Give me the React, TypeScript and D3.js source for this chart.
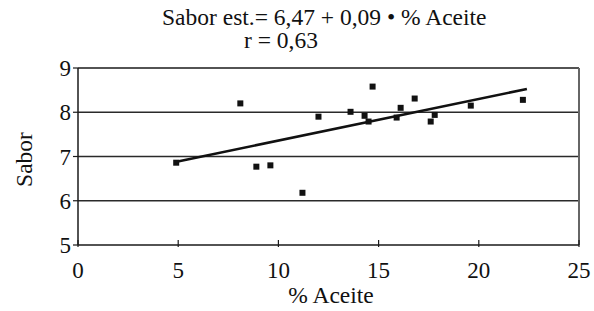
import React from 'react';
import * as d3 from 'd3';

// % Aceite vs Sabor
const aceite = [4.9, 8.1, 8.9, 9.6, 11.2, 12.0, 13.6, 14.3, 14.5, 14.7, 15.9, 16.1, 16.8, 17.6, 17.8, 19.6, 22.2];
const sabor = [6.86, 8.2, 6.77, 6.8, 6.18, 7.9, 8.01, 7.92, 7.79, 8.58, 7.88, 8.1, 8.31, 7.79, 7.94, 8.15, 8.28];

// trend line as drawn
const intercept = 6.42;
const slope = 0.094;
const lineFrom = 4.92;
const lineTo = 22.4;

const xTicks = [0, 5, 10, 15, 20, 25];
const yTicks = [5, 6, 7, 8, 9];

const titleLine1 = 'Sabor est.= 6,47 + 0,09 • % Aceite';
const titleLine2 = 'r = 0,63';

const W = 594;
const H = 311;
const margin = { top: 68, right: 15, bottom: 66, left: 78 };
const FONT = 'Liberation Serif, Times New Roman, serif';

export default function App() {
  const innerW = W - margin.left - margin.right;
  const innerH = H - margin.top - margin.bottom;

  const x = d3.scaleLinear().domain([0, 25]).range([0, innerW]);
  const y = d3.scaleLinear().domain([5, 9]).range([innerH, 0]);

  const pts = aceite.map((a, i) => ({ a, s: sabor[i] }));
  const trend = d3.line<number>()
    .x(d => x(d))
    .y(d => y(intercept + slope * d))([lineFrom, lineTo]);

  return (
    <svg width={W} height={H} style={{ position: 'absolute', left: 0, top: 0, background: '#fff', fontFamily: FONT }}>
      <text x={162} y={25} fontSize={23.5} fill="#111">{titleLine1}</text>
      <text x={244} y={48} fontSize={23.5} fill="#111">{titleLine2}</text>

      <g transform={`translate(${margin.left},${margin.top})`}>
        {/* grid */}
        {[6, 7, 8].map(t => (
          <line key={t} x1={0} x2={innerW} y1={y(t)} y2={y(t)} stroke="#2a2a2a" strokeWidth={1.6} />
        ))}
        {/* frame */}
        <line x1={0} x2={innerW} y1={y(9)} y2={y(9)} stroke="#1a1a1a" strokeWidth={1.6} />
        <line x1={innerW} x2={innerW} y1={0} y2={innerH} stroke="#666" strokeWidth={2} />
        <line x1={0} x2={0} y1={0} y2={innerH} stroke="#1a1a1a" strokeWidth={1.5} />
        <line x1={0} x2={innerW} y1={innerH} y2={innerH} stroke="#1a1a1a" strokeWidth={1.5} />

        {/* y ticks */}
        {yTicks.map(t => (
          <g key={t}>
            <line x1={-5} x2={0} y1={y(t)} y2={y(t)} stroke="#1a1a1a" strokeWidth={1.2} />
            <text x={-7} y={y(t)} dy="0.35em" textAnchor="end" fontSize={23} fill="#111">{t}</text>
          </g>
        ))}
        {/* x ticks */}
        {xTicks.map(t => (
          <g key={t}>
            <line x1={x(t)} x2={x(t)} y1={innerH - 5} y2={innerH + 2} stroke="#1a1a1a" strokeWidth={1.2} />
            <text x={x(t)} y={innerH + 33} textAnchor="middle" fontSize={23} fill="#111">{t}</text>
          </g>
        ))}

        <path d={trend || ''} fill="none" stroke="#111" strokeWidth={2.6} />

        {pts.map((p, i) => (
          <rect key={i} x={x(p.a) - 3} y={y(p.s) - 3} width={6} height={6} fill="#111" />
        ))}
      </g>

      <text x={331} y={303} textAnchor="middle" fontSize={23.5} fill="#111">% Aceite</text>
      <text transform={`translate(32,${margin.top + innerH / 2 + 3}) rotate(-90)`} textAnchor="middle"
        fontSize={23.5} fill="#111">Sabor</text>
    </svg>
  );
}
